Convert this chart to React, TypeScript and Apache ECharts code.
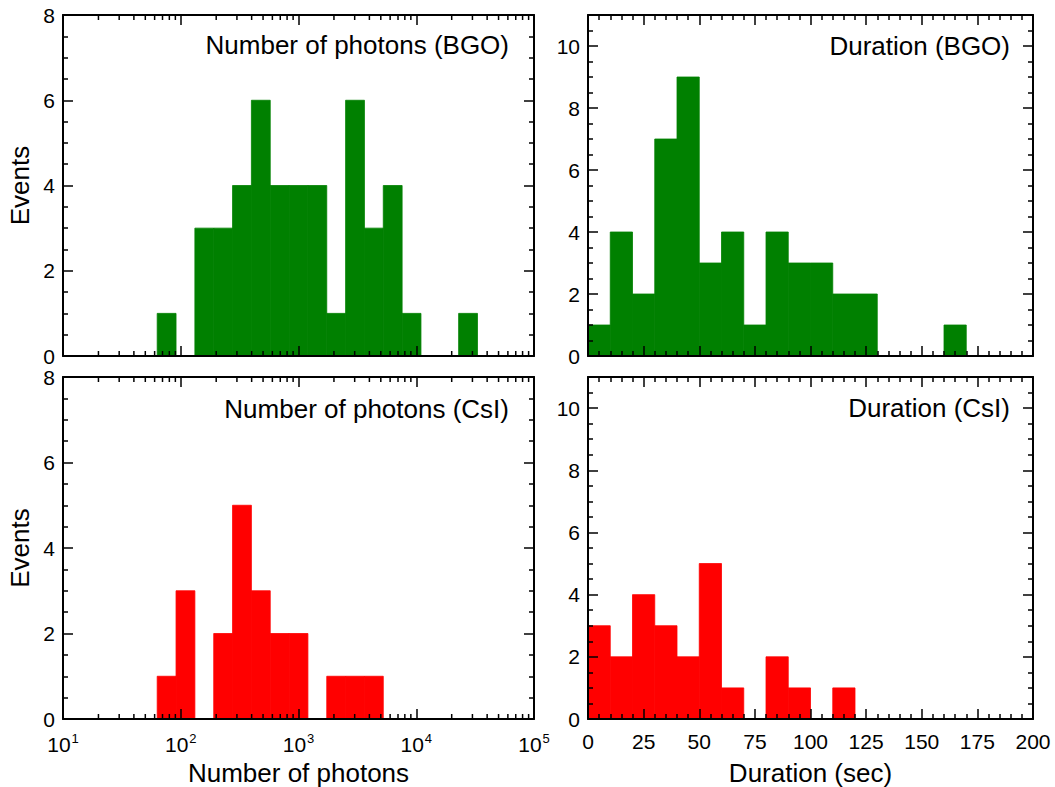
import React, { useEffect, useRef } from 'react';
import * as echarts from 'echarts';

// Histogram bin edges (log10 of number of photons) and counts
const photonBinEdgeExponents = [1.8, 1.96, 2.12, 2.28, 2.44, 2.6, 2.76, 2.92, 3.08, 3.24, 3.4, 3.56, 3.72, 3.88, 4.04, 4.2, 4.36, 4.52];
const photonCountsBGO = [1, 0, 3, 3, 4, 6, 4, 4, 4, 1, 6, 3, 4, 1, 0, 0, 1];
const photonCountsCsI = [1, 3, 0, 2, 5, 3, 2, 2, 0, 1, 1, 1, 0, 0, 0, 0, 0];

// Duration bin edges (sec) and counts
const durationBinEdges = [0, 10, 20, 30, 40, 50, 60, 70, 80, 90, 100, 110, 120, 130, 140, 150, 160, 170, 180, 190, 200];
const durationCountsBGO = [1, 4, 2, 7, 9, 3, 4, 1, 4, 3, 3, 2, 2, 0, 0, 0, 1, 0, 0, 0];
const durationCountsCsI = [3, 2, 4, 3, 2, 5, 1, 0, 2, 1, 0, 1, 0, 0, 0, 0, 0, 0, 0, 0];

// Minor tick positions of the logarithmic axis
const logMinorTicks = [
  20, 30, 40, 50, 60, 70, 80, 90,
  200, 300, 400, 500, 600, 700, 800, 900,
  2000, 3000, 4000, 5000, 6000, 7000, 8000, 9000,
  20000, 30000, 40000, 50000, 60000, 70000, 80000, 90000,
];

const panelTitles = ['Number of photons (BGO)', 'Duration (BGO)', 'Number of photons (CsI)', 'Duration (CsI)'];
const yAxisName = 'Events';
const photonAxisName = 'Number of photons';
const durationAxisName = 'Duration (sec)';

const GREEN = '#008000';
const RED = '#ff0000';
const FONT = '"Liberation Sans", Arial, Helvetica, sans-serif';

const grids = [
  { left: 63, top: 15, width: 471, height: 341 },
  { left: 588, top: 15, width: 445, height: 341 },
  { left: 63, top: 377, width: 471, height: 342 },
  { left: 588, top: 377, width: 445, height: 342 },
];

const lineStyle = { color: '#000', width: 2 };
const tickStyle = { color: '#000', width: 1.5 };

function histRender(color: string) {
  return (params: any, api: any) => {
    const x0 = api.value(0);
    const x1 = api.value(1);
    const c = api.value(2);
    if (!c) return null;
    const p0 = api.coord([x0, 0]);
    const p1 = api.coord([x1, c]);
    return {
      type: 'rect',
      shape: { x: p0[0], y: p1[1], width: p1[0] - p0[0], height: p0[1] - p1[1] },
      style: { fill: color, stroke: color, lineWidth: 0.8 },
    };
  };
}

function minorLogTickRender(ymax: number) {
  return (params: any, api: any) => {
    const v = api.value(0);
    const pb = api.coord([v, 0]);
    const pt = api.coord([v, ymax]);
    return {
      type: 'group',
      children: [
        { type: 'line', shape: { x1: pb[0], y1: pb[1], x2: pb[0], y2: pb[1] - 5 }, style: { stroke: '#000', lineWidth: 1.5 } },
        { type: 'line', shape: { x1: pt[0], y1: pt[1], x2: pt[0], y2: pt[1] + 5 }, style: { stroke: '#000', lineWidth: 1.5 } },
      ],
    };
  };
}

function logXAxis(gridIndex: number, position: 'top' | 'bottom', labels: boolean) {
  return {
    type: 'log',
    logBase: 10,
    gridIndex,
    position,
    min: 10,
    max: 100000,
    z: 5,
    name: position === 'bottom' && labels ? photonAxisName : '',
    nameLocation: 'middle',
    nameGap: 41,
    nameTextStyle: { fontFamily: FONT, fontSize: 26, color: '#000' },
    axisLine: { show: true, onZero: false, lineStyle },
    axisTick: { show: true, inside: true, length: 10, lineStyle: tickStyle },
    splitLine: { show: false },
    axisLabel: {
      show: labels,
      margin: 12,
      showMinLabel: true,
      showMaxLabel: true,
      fontFamily: FONT,
      fontSize: 21,
      color: '#000',
      formatter: (v: number) => `{b|10}{s|${Math.round(Math.log10(v))}}`,
      rich: {
        b: { fontFamily: FONT, fontSize: 21, color: '#000', lineHeight: 24, verticalAlign: 'bottom' },
        s: { fontFamily: FONT, fontSize: 13, color: '#000', lineHeight: 24, verticalAlign: 'top', padding: [1, 0, 0, 1] },
      },
    },
  };
}

function linXAxis(gridIndex: number, position: 'top' | 'bottom', labels: boolean) {
  return {
    type: 'value',
    gridIndex,
    position,
    min: 0,
    max: 200,
    interval: 25,
    z: 5,
    name: position === 'bottom' && labels ? durationAxisName : '',
    nameLocation: 'middle',
    nameGap: 41,
    nameTextStyle: { fontFamily: FONT, fontSize: 26, color: '#000' },
    axisLine: { show: true, onZero: false, lineStyle },
    axisTick: { show: true, inside: true, length: 10, lineStyle: tickStyle },
    minorTick: { show: true, splitNumber: 5, length: 5, lineStyle: tickStyle },
    splitLine: { show: false },
    minorSplitLine: { show: false },
    axisLabel: {
      show: labels,
      margin: 12,
      showMinLabel: true,
      showMaxLabel: true,
      fontFamily: FONT,
      fontSize: 21,
      color: '#000',
    },
  };
}

function yAxis(gridIndex: number, position: 'left' | 'right', ymax: number, labels: boolean, named: boolean) {
  return {
    type: 'value',
    gridIndex,
    position,
    min: 0,
    max: ymax,
    interval: 2,
    z: 5,
    name: named ? yAxisName : '',
    nameLocation: 'middle',
    nameGap: 30,
    nameTextStyle: { fontFamily: FONT, fontSize: 26, color: '#000' },
    axisLine: { show: true, onZero: false, lineStyle },
    axisTick: { show: true, inside: true, length: 10, lineStyle: tickStyle },
    minorTick: { show: true, splitNumber: 4, length: 5, lineStyle: tickStyle },
    splitLine: { show: false },
    minorSplitLine: { show: false },
    axisLabel: {
      show: labels,
      margin: 8,
      fontFamily: FONT,
      fontSize: 21,
      color: '#000',
      formatter: (v: number) => (v > 10 ? '' : String(v)),
    },
  };
}

export default function App() {
  const ref = useRef<HTMLDivElement>(null);

  useEffect(() => {
    document.body.style.margin = '0';
    if (!ref.current) return;
    const chart = echarts.init(ref.current, undefined, { renderer: 'svg' });

    const photonBGO = photonCountsBGO.map((c, i) => [10 ** photonBinEdgeExponents[i], 10 ** photonBinEdgeExponents[i + 1], c]);
    const photonCsI = photonCountsCsI.map((c, i) => [10 ** photonBinEdgeExponents[i], 10 ** photonBinEdgeExponents[i + 1], c]);
    const durBGO = durationCountsBGO.map((c, i) => [durationBinEdges[i], durationBinEdges[i + 1], c]);
    const durCsI = durationCountsCsI.map((c, i) => [durationBinEdges[i], durationBinEdges[i + 1], c]);
    const minorData = logMinorTicks.map((v) => [v, 0]);

    const option: any = {
      animation: false,
      backgroundColor: '#fff',
      grid: grids.map((g) => ({ ...g, containLabel: false, outerBoundsMode: 'none' })),
      xAxis: [
        logXAxis(0, 'bottom', false),
        logXAxis(0, 'top', false),
        linXAxis(1, 'bottom', false),
        linXAxis(1, 'top', false),
        logXAxis(2, 'bottom', true),
        logXAxis(2, 'top', false),
        linXAxis(3, 'bottom', true),
        linXAxis(3, 'top', false),
      ],
      yAxis: [
        yAxis(0, 'left', 8, true, true),
        yAxis(0, 'right', 8, false, false),
        yAxis(1, 'left', 11, true, false),
        yAxis(1, 'right', 11, false, false),
        yAxis(2, 'left', 8, true, true),
        yAxis(2, 'right', 8, false, false),
        yAxis(3, 'left', 11, true, false),
        yAxis(3, 'right', 11, false, false),
      ],
      series: [
        { type: 'custom', name: 'photons BGO', xAxisIndex: 0, yAxisIndex: 0, data: photonBGO, encode: { x: [0, 1], y: 2 }, renderItem: histRender(GREEN), z: 2 },
        { type: 'custom', name: 'duration BGO', xAxisIndex: 2, yAxisIndex: 2, data: durBGO, encode: { x: [0, 1], y: 2 }, renderItem: histRender(GREEN), z: 2 },
        { type: 'custom', name: 'photons CsI', xAxisIndex: 4, yAxisIndex: 4, data: photonCsI, encode: { x: [0, 1], y: 2 }, renderItem: histRender(RED), z: 2 },
        { type: 'custom', name: 'duration CsI', xAxisIndex: 6, yAxisIndex: 6, data: durCsI, encode: { x: [0, 1], y: 2 }, renderItem: histRender(RED), z: 2 },
        { type: 'custom', name: 'minor ticks 1', xAxisIndex: 0, yAxisIndex: 0, data: minorData, encode: { x: 0, y: 1 }, renderItem: minorLogTickRender(8), z: 6, silent: true },
        { type: 'custom', name: 'minor ticks 3', xAxisIndex: 4, yAxisIndex: 4, data: minorData, encode: { x: 0, y: 1 }, renderItem: minorLogTickRender(8), z: 6, silent: true },
      ],
      graphic: [
        { type: 'text', x: 509, y: 45, style: { text: panelTitles[0], fontFamily: FONT, fontSize: 26, fill: '#000', textAlign: 'right', textVerticalAlign: 'middle' } },
        { type: 'text', x: 1010, y: 46, style: { text: panelTitles[1], fontFamily: FONT, fontSize: 26, fill: '#000', textAlign: 'right', textVerticalAlign: 'middle' } },
        { type: 'text', x: 509, y: 409, style: { text: panelTitles[2], fontFamily: FONT, fontSize: 26, fill: '#000', textAlign: 'right', textVerticalAlign: 'middle' } },
        { type: 'text', x: 1010, y: 408, style: { text: panelTitles[3], fontFamily: FONT, fontSize: 26, fill: '#000', textAlign: 'right', textVerticalAlign: 'middle' } },
      ],
    };

    chart.setOption(option);
    return () => chart.dispose();
  }, []);

  return <div ref={ref} style={{ width: 1055, height: 787 }} />;
}
